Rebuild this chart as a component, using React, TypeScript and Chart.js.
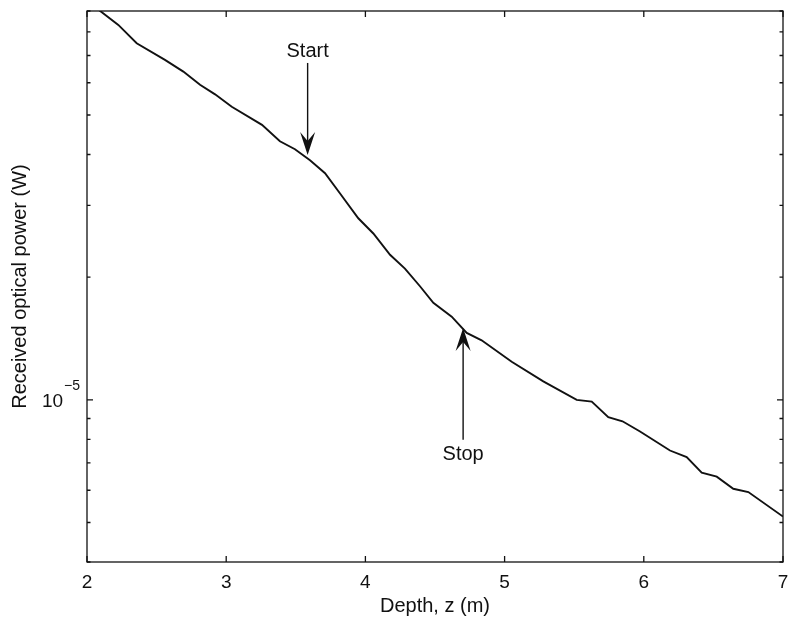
import React, { useEffect, useRef } from "react";
import { Chart, registerables } from "chart.js";

Chart.register(...registerables);

// Depth (m)
const depth = [
  2.0, 2.225, 2.357, 2.56, 2.692, 2.812, 2.92, 3.04, 3.257, 3.386, 3.494, 3.602,
  3.71, 3.818, 3.949, 4.057, 4.177, 4.284, 4.392, 4.488, 4.62, 4.728, 4.835,
  5.051, 5.278, 5.518, 5.626, 5.745, 5.847, 5.973, 6.188, 6.308, 6.416, 6.524,
  6.643, 6.751, 7.0,
];

// Received optical power (W)
const power = [
  9.53e-5, 8.32e-5, 7.5e-5, 6.83e-5, 6.39e-5, 5.93e-5, 5.62e-5, 5.24e-5,
  4.73e-5, 4.31e-5, 4.12e-5, 3.87e-5, 3.6e-5, 3.21e-5, 2.79e-5, 2.56e-5,
  2.27e-5, 2.1e-5, 1.9e-5, 1.73e-5, 1.6e-5, 1.46e-5, 1.4e-5, 1.24e-5, 1.11e-5,
  1.0e-5, 9.9e-6, 9.07e-6, 8.86e-6, 8.36e-6, 7.51e-6, 7.24e-6, 6.63e-6,
  6.48e-6, 6.05e-6, 5.94e-6, 5.17e-6,
];

const xTicks = [2, 3, 4, 5, 6, 7];
const yTicks = [
  4e-6, 5e-6, 6e-6, 7e-6, 8e-6, 9e-6, 1e-5, 2e-5, 3e-5, 4e-5, 5e-5, 6e-5, 7e-5,
  8e-5, 9e-5,
];
const yMajor = [1e-5];
const yMajorBase = "10";
const yMajorExp = "−5";

// Annotations (data coordinates)
const startNote = { label: "Start", x: 3.585, labelY: 7.14e-5, tail: 6.71e-5, tip: 3.99e-5 };
const stopNote = { label: "Stop", x: 4.702, labelY: 7.33e-6, tail: 7.98e-6, tip: 1.5e-5 };

const FONT = "'Liberation Sans', Arial, Helvetica, sans-serif";

const decorPlugin = {
  id: "matlabDecor",
  afterDatasetsDraw(chart: any) {
    const { ctx, chartArea } = chart;
    const { left, right, top, bottom } = chartArea;
    const xs = chart.scales.x;
    const ys = chart.scales.y;
    ctx.save();
    ctx.strokeStyle = "#111";
    ctx.lineWidth = 1.3;
    ctx.strokeRect(left, top, right - left, bottom - top);

    ctx.beginPath();
    xs.ticks.forEach((t: any) => {
      const px = xs.getPixelForValue(t.value);
      ctx.moveTo(px, bottom);
      ctx.lineTo(px, bottom - 6);
      ctx.moveTo(px, top);
      ctx.lineTo(px, top + 6);
    });
    ys.ticks.forEach((t: any) => {
      const py = ys.getPixelForValue(t.value);
      const len = yMajor.includes(t.value) ? 6 : 3.5;
      ctx.moveTo(left, py);
      ctx.lineTo(left + len, py);
      ctx.moveTo(right, py);
      ctx.lineTo(right - len, py);
    });
    ctx.stroke();

    // y major tick label with superscript exponent
    ctx.fillStyle = "#111";
    yMajor.forEach((v) => {
      const py = ys.getPixelForValue(v);
      ctx.font = `14px ${FONT}`;
      ctx.textAlign = "right";
      ctx.textBaseline = "alphabetic";
      const expW = ctx.measureText(yMajorExp).width;
      const expRight = left - 7;
      ctx.fillText(yMajorExp, expRight, py - 10);
      ctx.font = `19px ${FONT}`;
      ctx.fillText(yMajorBase, expRight - expW - 1, py + 7);
    });

    const drawNote = (n: any, up: boolean) => {
      const px = xs.getPixelForValue(n.x);
      const pTail = ys.getPixelForValue(n.tail);
      const pTip = ys.getPixelForValue(n.tip);
      const dir = up ? -1 : 1;
      ctx.strokeStyle = "#111";
      ctx.lineWidth = 1.4;
      ctx.beginPath();
      ctx.moveTo(px, pTail);
      ctx.lineTo(px, pTip - dir * 14);
      ctx.stroke();
      ctx.fillStyle = "#111";
      ctx.beginPath();
      ctx.moveTo(px, pTip);
      ctx.lineTo(px - 7.5, pTip - dir * 23);
      ctx.lineTo(px, pTip - dir * 14);
      ctx.lineTo(px + 7.5, pTip - dir * 23);
      ctx.closePath();
      ctx.fill();
      ctx.font = `20px ${FONT}`;
      ctx.textAlign = "center";
      ctx.textBaseline = "middle";
      ctx.fillText(n.label, px, ys.getPixelForValue(n.labelY));
    };
    drawNote(startNote, false);
    drawNote(stopNote, true);
    ctx.restore();
  },
};

export default function App() {
  const ref = useRef<HTMLCanvasElement>(null);
  useEffect(() => {
    if (!ref.current) return;
    const chart = new Chart(ref.current, {
      type: "line",
      data: {
        datasets: [
          {
            data: depth.map((d, i) => ({ x: d, y: power[i] })),
            borderColor: "#111",
            borderWidth: 1.9,
            pointRadius: 0,
            tension: 0,
            fill: false,
          },
        ],
      },
      options: {
        animation: false,
        responsive: false,
        events: [],
        layout: { padding: 0 },
        plugins: { legend: { display: false }, tooltip: { enabled: false } },
        scales: {
          x: {
            type: "linear",
            min: 2,
            max: 7,
            afterBuildTicks: (s: any) => {
              s.ticks = xTicks.map((v) => ({ value: v }));
            },
            afterFit: (s: any) => {
              s.height = 60;
              s.paddingLeft = 0;
              s.paddingRight = 8;
            },
            grid: { display: false, drawTicks: false },
            border: { display: false },
            ticks: {
              color: "#111",
              padding: 9,
              font: { family: FONT, size: 19 },
              callback: (v: any) => String(v),
            },
            title: {
              display: true,
              text: "Depth, z (m)",
              color: "#111",
              font: { family: FONT, size: 20 },
              padding: { top: 0, bottom: 4 },
            },
          },
          y: {
            type: "logarithmic",
            min: 4e-6,
            max: 9e-5,
            afterBuildTicks: (s: any) => {
              s.ticks = yTicks.map((v) => ({ value: v }));
            },
            afterFit: (s: any) => {
              s.width = 87;
              s.paddingTop = 11;
              s.paddingBottom = 0;
            },
            grid: { display: false, drawTicks: false },
            border: { display: false },
            ticks: {
              color: "#111",
              padding: 7,
              autoSkip: false,
              font: { family: FONT, size: 19 },
              callback: () => "",
            },
            title: {
              display: true,
              text: "Received optical power (W)",
              color: "#111",
              font: { family: FONT, size: 20 },
              padding: { top: 8, bottom: 0 },
            },
          },
        },
      },
      plugins: [decorPlugin],
    });
    return () => chart.destroy();
  }, []);
  return (
    <div style={{ position: "absolute", left: 0, top: 0, width: 791, height: 622, background: "#fff" }}>
      <canvas ref={ref} width={791} height={622} />
    </div>
  );
}
